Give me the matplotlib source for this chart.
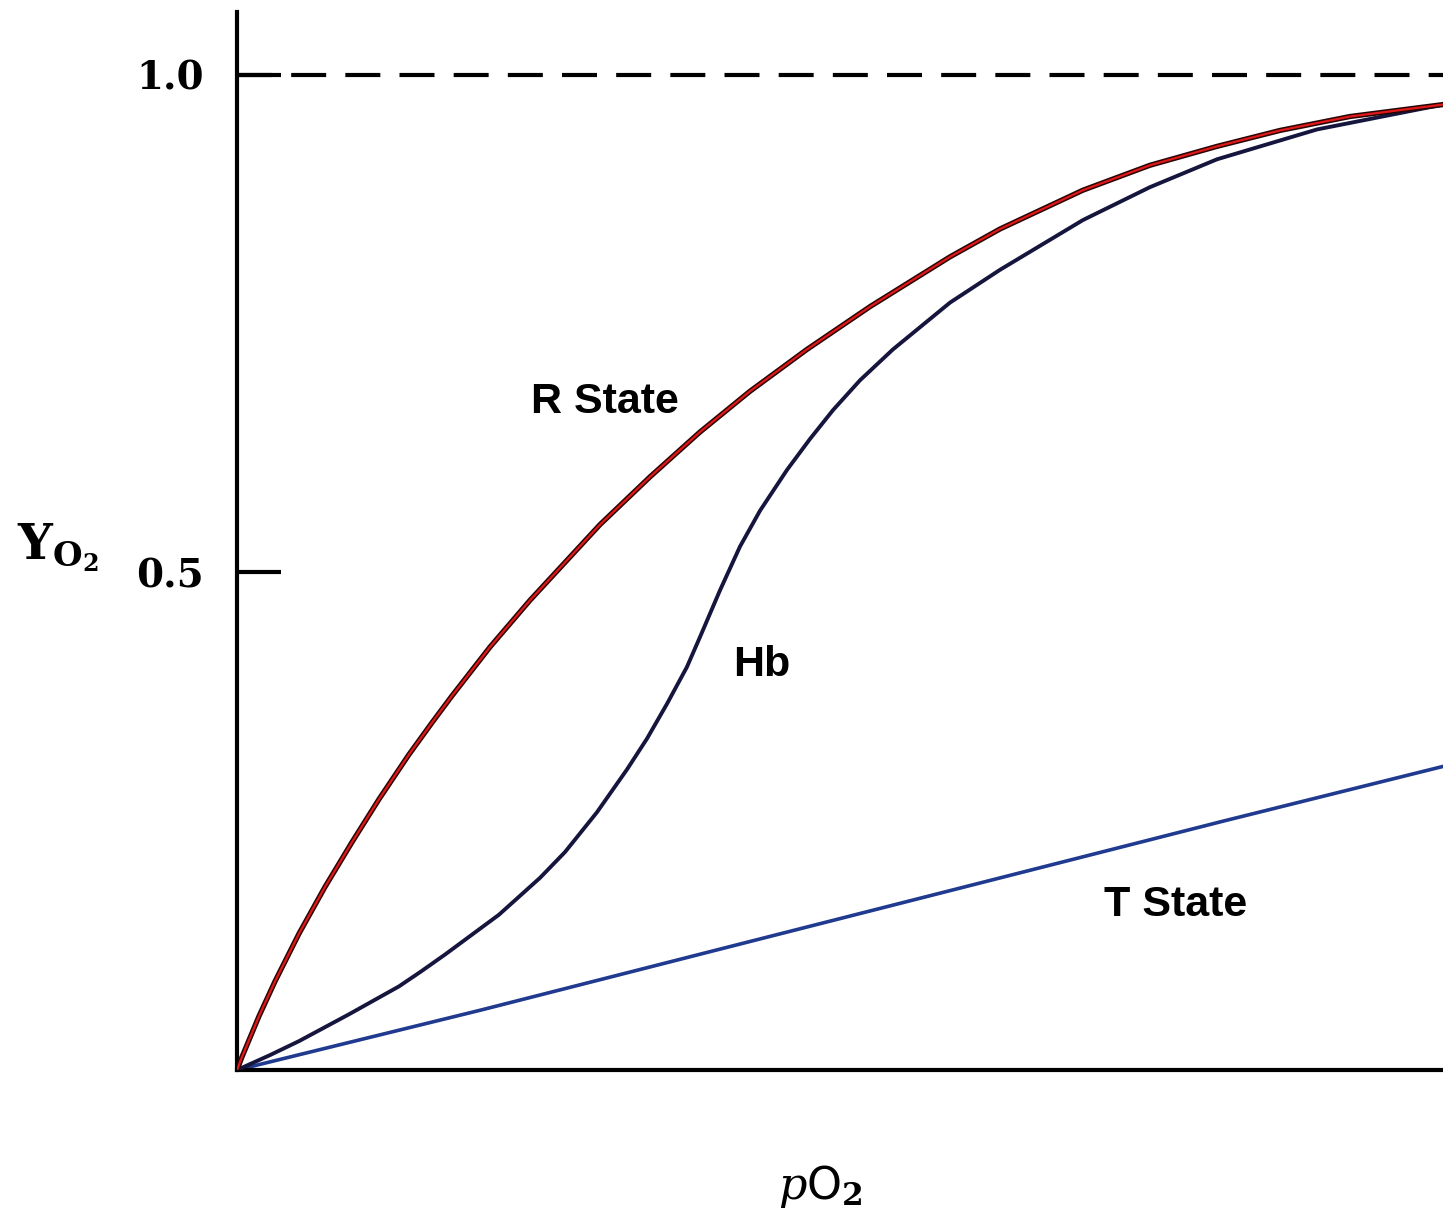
import numpy as np
import matplotlib
matplotlib.use("Agg")
import matplotlib.pyplot as plt
import matplotlib.patheffects as pe

# pO2 in arbitrary units (0-100), fractional saturation Y_O2
rX = [0, 0.41, 1.82, 3.15, 5.14, 7.30, 9.54, 11.77, 14.26, 16.17, 17.83, 20.98,
      24.30, 30.10, 34.25, 38.39, 42.54, 47.26, 52.49, 59.12, 63.27, 70.15,
      75.70, 81.26, 86.48, 92.29, 100]
rY = [0, 0.013, 0.054, 0.089, 0.137, 0.184, 0.229, 0.272, 0.317, 0.349, 0.376, 0.425,
      0.472, 0.548, 0.596, 0.641, 0.682, 0.724, 0.767, 0.817, 0.845, 0.884,
      0.909, 0.928, 0.944, 0.958, 0.970]

hbX = [0, 2.74, 5.14, 9.29, 13.43, 15.26, 17.25, 21.72, 25.12, 27.20, 29.85, 32.34,
       34.00, 35.66, 37.31, 38.39, 40.05, 41.71, 42.54, 43.37, 45.61, 47.51,
       49.42, 51.66, 54.39, 59.12, 63.27, 70.15, 75.70, 81.26, 89.55, 100]
hbY = [0, 0.015, 0.029, 0.056, 0.084, 0.099, 0.116, 0.156, 0.193, 0.219, 0.259, 0.302,
       0.333, 0.368, 0.405, 0.435, 0.482, 0.526, 0.544, 0.562, 0.603, 0.634,
       0.663, 0.693, 0.724, 0.771, 0.804, 0.854, 0.887, 0.915, 0.945, 0.970]

tX = [0, 20.15, 40.88, 63.27, 81.76, 100]
tY = [0, 0.060, 0.124, 0.193, 0.250, 0.305]

yTicks = [0.5, 1.0]
yTickLabels = ["0.5", "1.0"]

plt.rcParams['mathtext.fontset'] = 'dejavuserif'

fig = plt.figure(figsize=(14.43, 12.17), dpi=100)
ax = fig.add_axes([237 / 1443, 147 / 1217, 1 - 237 / 1443, 1058 / 1217])

# saturation limit
ax.axhline(1.0, color='black', lw=3, dashes=(8.4, 4.6), zorder=1)

ax.plot(tX, tY, color='#1f3a8f', lw=2.6, solid_joinstyle='round', zorder=2)
ax.plot(hbX, hbY, color='#15153d', lw=2.8, solid_joinstyle='round', zorder=3)
ax.plot(rX, rY, color='#e01818', lw=1.6, solid_joinstyle='round', zorder=4,
        path_effects=[pe.Stroke(linewidth=3.8, foreground='#2a0505', joinstyle='round'),
                      pe.Normal()])

sansFont = dict(family='Liberation Sans', fontweight='bold', fontsize=31)
ax.text(30.5, 0.671, 'R State', ha='center', va='center', **sansFont)
ax.text(43.5, 0.407, 'Hb', ha='center', va='center', **sansFont)
ax.text(77.8, 0.166, 'T State', ha='center', va='center', **sansFont)

ax.set_xlim(0, 100)
ax.set_ylim(0, 1.063)
ax.set_xticks([])
ax.set_yticks(yTicks)
ax.set_yticklabels(yTickLabels, family='DejaVu Serif', fontweight='bold', fontsize=28)
ax.tick_params(axis='y', direction='in', length=32, width=3, pad=24)

for side in ['top', 'right']:
    ax.spines[side].set_visible(False)
for side in ['left', 'bottom']:
    ax.spines[side].set_linewidth(3)
ax.set_facecolor('white')

fig.text(58 / 1443, 1 - 548 / 1217, r'$\mathbf{Y}_{\mathbf{O}_{\mathbf{2}}}$',
         ha='center', va='center', fontsize=35)
fig.text(820 / 1443, 1 - 1186 / 1217, r'$p\mathsf{O}_{\mathbf{2}}$',
         ha='center', va='center', fontsize=32)

fig.savefig('out.png', dpi=100, facecolor='white')
